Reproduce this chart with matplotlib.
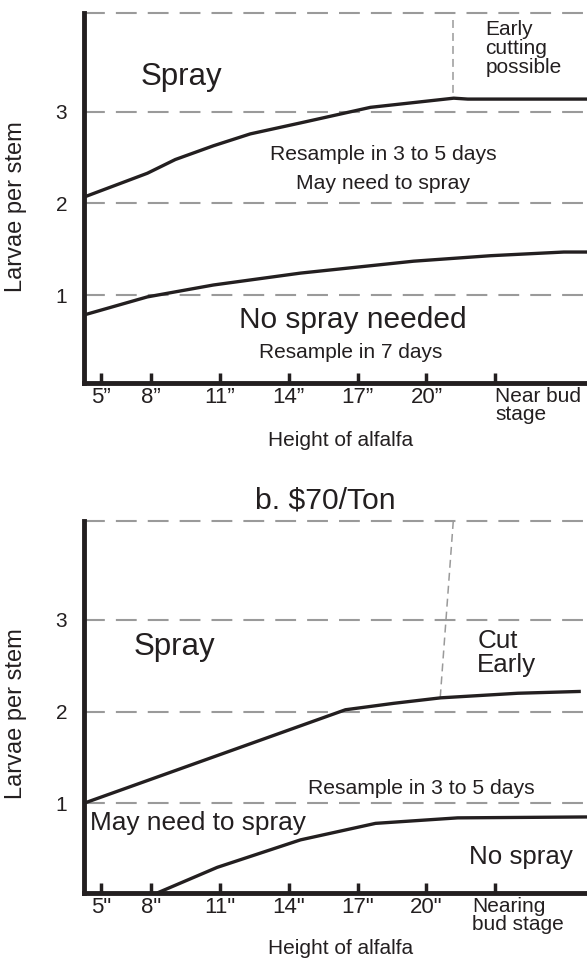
import matplotlib
matplotlib.use("Agg")
import matplotlib.pyplot as plt
from matplotlib.transforms import ScaledTranslation

plt.rcParams['font.family'] = ['Liberation Sans', 'DejaVu Sans']

# ---------------- data ----------------
tick_labels_top = ['5\u201d', '8\u201d', '11\u201d', '14\u201d', '17\u201d', '20\u201d', 'Near bud\nstage']
tick_labels_bot = ['5"', '8"', '11"', '14"', '17"', '20"', 'Nearing\nbud stage']
ytick_vals = [1, 2, 3]

# panel a: upper threshold (spray) and lower threshold (no spray)
top_upper_x = [5.07, 7.83, 9.05, 10.71, 12.32, 14.51, 17.56, 21.19, 21.8, 27.0]
top_upper_y = [2.07, 2.33, 2.48, 2.63, 2.76, 2.88, 3.05, 3.15, 3.14, 3.14]
top_lower_x = [5.03, 7.83, 10.71, 14.51, 19.44, 22.8, 25.99, 27.0]
top_lower_y = [0.78, 0.98, 1.11, 1.24, 1.37, 1.43, 1.47, 1.47]
top_cut_x = [21.17, 21.17]
top_cut_y = [4.0, 3.15]

# panel b: $70/Ton
bot_upper_x = [5.07, 16.47, 18.57, 20.62, 23.98, 26.73]
bot_upper_y = [1.0, 2.02, 2.09, 2.15, 2.20, 2.22]
bot_lower_x = [8.26, 10.88, 14.51, 17.78, 21.36, 27.0]
bot_lower_y = [0.02, 0.30, 0.60, 0.78, 0.84, 0.85]
bot_cut_x = [21.17, 20.6]
bot_cut_y = [4.08, 2.15]

# ---------------- layout ----------------
W, H = 587, 964
fig = plt.figure(figsize=(W / 100, H / 100), dpi=100)

INK = '#231f20'
GRID = '#9a9a9a'
tick_pos = [5.8, 8, 11, 14, 17, 20, 23]


def add_ax(left, top, right, bottom):
    return fig.add_axes([left / W, 1 - bottom / H, (right - left) / W, (bottom - top) / H])


def style(ax, ylo, labels, last_dx_px, ylabel_y, xlabel_y):
    ax.set_xlim(5.07, 27.0)
    ax.set_ylim(ylo, 4.08)
    for s in ['top', 'right']:
        ax.spines[s].set_visible(False)
    for s in ['left', 'bottom']:
        ax.spines[s].set_linewidth(3.5)
        ax.spines[s].set_color(INK)
        ax.spines[s].set_capstyle('projecting')
    # dashed reference lines
    for v in ytick_vals:
        ax.axhline(v, color=GRID, lw=1.5, dashes=(10, 5.3), zorder=1)
    ax.plot([0, 1], [1, 1], transform=ax.transAxes, color=GRID, lw=1.5,
            dashes=(10, 5.3), clip_on=False, zorder=1)
    ax.set_yticks(ytick_vals)
    ax.set_yticklabels([str(v) for v in ytick_vals])
    ax.tick_params(axis='y', length=0, pad=12, labelsize=15, labelcolor=INK)
    ax.set_xticks(tick_pos)
    ax.set_xticklabels(labels)
    ax.tick_params(axis='x', direction='in', length=7.5, width=2.5, color=INK,
                   pad=3.0, labelsize=16, labelcolor=INK)
    last = ax.get_xticklabels()[-1]
    last.set_horizontalalignment('left')
    last.set_fontsize(15)
    last.set_linespacing(0.95)
    last.set_transform(last.get_transform() +
                       ScaledTranslation(last_dx_px / 100, 0, fig.dpi_scale_trans))
    ax.set_ylabel('Larvae per stem', fontsize=17, color=INK)
    ax.yaxis.set_label_coords(-0.113, ylabel_y)
    ax.set_xlabel('Height of alfalfa', fontsize=15, color=INK)
    ax.xaxis.set_label_coords(0.511, xlabel_y)


# ----- panel a -----
ax1 = add_ax(84, 13, 587, 383)
style(ax1, 0.04, tick_labels_top, 0, 0.476, -0.13)
ax1.plot(top_upper_x, top_upper_y, color=INK, lw=2.4, solid_capstyle='butt', zorder=3)
ax1.plot(top_lower_x, top_lower_y, color=INK, lw=2.4, solid_capstyle='butt', zorder=3)
ax1.plot(top_cut_x, top_cut_y, color=GRID, lw=1.1, dashes=(5.2, 3.3), zorder=2)

ax1.text(9.31, 3.38, 'Spray', fontsize=22.5, color=INK, ha='center', va='center')
ax1.text(22.57, 4.0, 'Early\ncutting\npossible', fontsize=15, color=INK,
         ha='left', va='top', linespacing=0.98)
ax1.text(18.12, 2.53, 'Resample in 3 to 5 days', fontsize=15.2, color=INK,
         ha='center', va='center')
ax1.text(18.12, 2.22, 'May need to spray', fontsize=15.2, color=INK,
         ha='center', va='center')
ax1.text(16.77, 0.73, 'No spray needed', fontsize=21.5, color=INK,
         ha='center', va='center')
ax1.text(16.68, 0.37, 'Resample in 7 days', fontsize=15, color=INK,
         ha='center', va='center')

# ----- panel b -----
ax2 = add_ax(84, 521, 587, 893)
style(ax2, 0.02, tick_labels_bot, -23, 0.481, -0.125)
ax2.plot(bot_upper_x, bot_upper_y, color=INK, lw=2.4, solid_capstyle='butt', zorder=3)
ax2.plot(bot_lower_x, bot_lower_y, color=INK, lw=2.4, solid_capstyle='butt', zorder=3)
ax2.plot(bot_cut_x, bot_cut_y, color=GRID, lw=1.1, dashes=(5.2, 3.3), zorder=2, clip_on=False)

ax2.text(0.479, 1.056, 'b. $70/Ton', transform=ax2.transAxes, fontsize=21.7,
         color=INK, ha='center', va='center')
ax2.text(9.0, 2.70, 'Spray', fontsize=22.5, color=INK, ha='center', va='center')
ax2.text(22.22, 2.90, 'Cut\nEarly', fontsize=18.7, color=INK, ha='left', va='top',
         linespacing=1.0)
ax2.text(19.78, 1.16, 'Resample in 3 to 5 days', fontsize=15.2, color=INK,
         ha='center', va='center')
ax2.text(10.03, 0.78, 'May need to spray', fontsize=18.9, color=INK,
         ha='center', va='center')
ax2.text(24.14, 0.41, 'No spray', fontsize=18.6, color=INK, ha='center', va='center')

fig.savefig('out.png', dpi=100)
